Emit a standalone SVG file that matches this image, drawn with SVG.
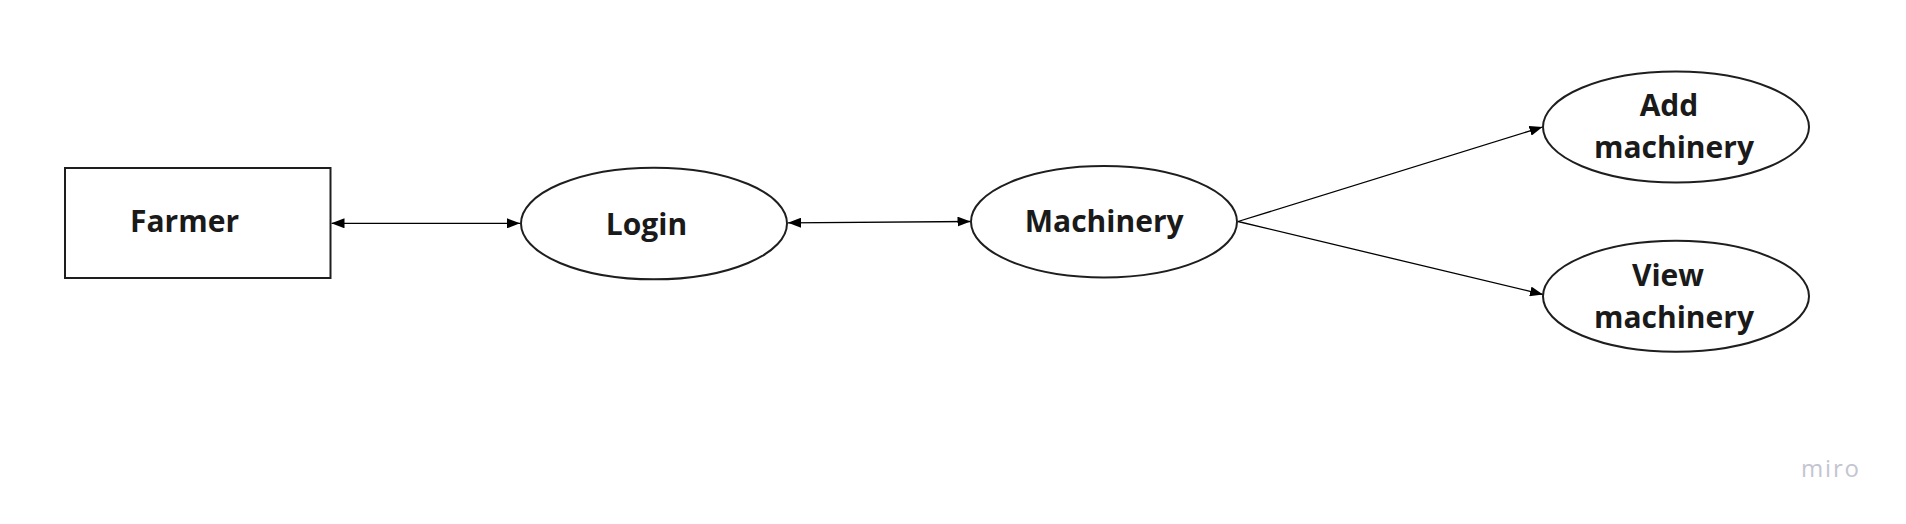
<svg xmlns="http://www.w3.org/2000/svg" width="1906" height="524" viewBox="0 0 1906 524">
  <style>
    .shape { fill: #ffffff; stroke: #1e1e1e; stroke-width: 2; }
    .label { font-family: "Open Sans", "Liberation Sans", sans-serif; font-weight: 700; font-size: 30px; fill: #1a1a1a; text-anchor: middle; }
    .conn { fill: none; stroke: #000000; stroke-width: 1.3; }
    .logo { font-family: "Open Sans", "Liberation Sans", sans-serif; font-weight: 500; font-size: 24px; fill: #c4c5d1; }
  </style>
  <defs>
    <marker id="ah" viewBox="0 0 13 10" refX="13" refY="5" markerWidth="13" markerHeight="10" markerUnits="userSpaceOnUse" orient="auto-start-reverse">
      <path d="M0,0 L13,5 L0,10 Z" fill="#000000"/>
    </marker>
  </defs>
  <rect x="0" y="0" width="1906" height="524" fill="#ffffff"/>

  <g id="connectors">
    <line class="conn" x1="331.5" y1="223.3" x2="520" y2="223.3" marker-start="url(#ah)" marker-end="url(#ah)"/>
    <line class="conn" x1="788" y1="222.8" x2="970.5" y2="221.5" marker-start="url(#ah)" marker-end="url(#ah)"/>
    <line class="conn" x1="1238" y1="221.5" x2="1542.5" y2="127" marker-end="url(#ah)"/>
    <line class="conn" x1="1238" y1="221.5" x2="1543" y2="294.5" marker-end="url(#ah)"/>
  </g>

  <g id="farmer">
    <rect class="shape" x="65" y="168" width="265.5" height="110"/>
    <text class="label" x="184.5" y="231.7">Farmer</text>
  </g>

  <g id="login">
    <ellipse class="shape" cx="654" cy="223.5" rx="133" ry="55.8"/>
    <text class="label" x="646.5" y="234.5">Login</text>
  </g>

  <g id="machinery">
    <ellipse class="shape" cx="1104" cy="221.7" rx="133" ry="55.7"/>
    <text class="label" x="1104.2" y="232.3">Machinery</text>
  </g>

  <g id="add-machinery">
    <ellipse class="shape" cx="1676" cy="127" rx="133" ry="55.5"/>
    <text class="label" x="1669" y="116">Add</text>
    <text class="label" x="1674" y="158.3">machinery</text>
  </g>

  <g id="view-machinery">
    <ellipse class="shape" cx="1676" cy="296.3" rx="133" ry="55.5"/>
    <text class="label" x="1668" y="286">View</text>
    <text class="label" x="1674" y="328.3">machinery</text>
  </g>

  <text class="logo" x="1801" y="476.7" textLength="58" lengthAdjust="spacing">miro</text>
</svg>
